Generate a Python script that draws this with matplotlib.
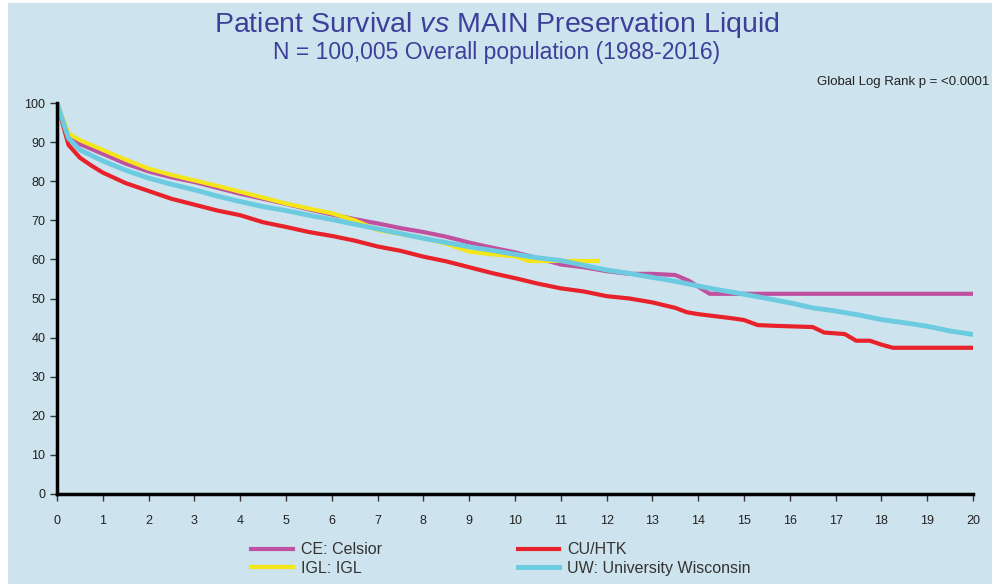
import matplotlib
matplotlib.use('Agg')
import matplotlib.pyplot as plt
from matplotlib.patches import Rectangle

plt.rcParams['font.family'] = ['Liberation Sans', 'DejaVu Sans']
plt.rcParams['mathtext.fontset'] = 'custom'
plt.rcParams['mathtext.it'] = 'Liberation Sans:italic'
plt.rcParams['mathtext.rm'] = 'Liberation Sans'

# survival curves (years, % surviving)
ce_t = [0, 0.25, 0.5, 1, 1.5, 2, 2.5, 3, 3.5, 4, 4.5, 5, 5.5, 6, 6.5, 7, 7.5,
        8, 8.5, 9, 9.5, 10, 10.5, 11, 11.5, 12, 12.5, 13, 13.5, 13.8, 14.25, 20]
ce_s = [100, 91.4, 89.5, 87, 84.5, 82.5, 81, 79.8, 78.3, 76.8, 75.5, 74.2, 72.8,
        71.5, 70.3, 69.2, 68, 67, 65.8, 64.3, 63, 61.8, 60.3, 58.7, 58, 57,
        56.3, 56.3, 56, 54.5, 51.2, 51.2]

igl_t = [0, 0.25, 0.5, 1, 1.5, 2, 2.5, 3, 3.5, 4, 4.5, 5, 5.5, 6, 6.5, 7, 7.5,
         8, 8.5, 9, 9.5, 10, 10.3, 11, 11.8]
igl_s = [100, 92.2, 90.5, 88, 85.5, 83.2, 81.6, 80.2, 78.8, 77.3, 75.8, 74.3,
         73, 71.8, 70, 67.5, 66.5, 65.5, 64, 62, 61.3, 60.8, 59.6, 59.6, 59.6]

htk_t = [0, 0.25, 0.5, 0.75, 1, 1.5, 2, 2.5, 3, 3.5, 4, 4.5, 5, 5.5, 6, 6.5, 7,
         7.5, 8, 8.5, 9, 9.5, 10, 10.5, 11, 11.5, 12, 12.5, 13, 13.5, 13.75, 14,
         14.7, 15, 15.3, 15.7, 16.5, 16.75, 17.2, 17.45, 17.75, 18, 18.25, 20]
htk_s = [100, 89.3, 86, 84, 82.2, 79.5, 77.5, 75.5, 74, 72.5, 71.3, 69.5, 68.3,
         67, 66, 64.8, 63.3, 62.2, 60.7, 59.5, 58, 56.5, 55.2, 53.8, 52.6, 51.8,
         50.6, 50, 49, 47.6, 46.5, 46, 45, 44.5, 43.2, 43, 42.7, 41.3, 40.9,
         39.2, 39.2, 38.2, 37.4, 37.4]

uw_t = [0, 0.25, 0.5, 1, 1.5, 2, 2.5, 3, 3.5, 4, 4.5, 5, 5.5, 6, 6.5, 7, 7.5, 8,
        8.5, 9, 9.5, 10, 10.5, 11, 11.5, 12, 12.5, 13, 13.5, 14, 14.5, 15, 15.5,
        16, 16.5, 17, 17.5, 18, 18.5, 19, 19.5, 20]
uw_s = [100, 91, 88, 85.2, 82.8, 80.8, 79.2, 77.8, 76.2, 74.8, 73.5, 72.5, 71.3,
        70.2, 69, 67.8, 66.6, 65.4, 64.3, 63.2, 62.3, 61.3, 60.4, 59.7, 58.5,
        57.3, 56.4, 55.4, 54.4, 53.2, 52.1, 51.1, 50.0, 48.9, 47.6, 46.8, 45.8,
        44.6, 43.8, 42.9, 41.7, 40.8]

bg = '#cde3ed'
fig = plt.figure(figsize=(9.94, 5.84), dpi=100, facecolor='white')
fig.patches.append(Rectangle((8 / 994, 0), 984 / 994, 1 - 3 / 584,
                             transform=fig.transFigure, facecolor=bg,
                             edgecolor='none', zorder=-1))

ax = fig.add_axes([57 / 994, 1 - 494 / 584, 916 / 994, 391 / 584])
ax.set_facecolor(bg)

ax.plot(ce_t, ce_s, color='#c050a0', lw=3.0, label='CE: Celsior')
ax.plot(igl_t, igl_s, color='#f5e61a', lw=3.0, label='IGL: IGL')
ax.plot(htk_t, htk_s, color='#e8222a', lw=3.0, label='CU/HTK')
ax.plot(uw_t, uw_s, color='#6ccbe0', lw=3.5, label='UW: University Wisconsin')

ax.set_xlim(0, 20)
ax.set_ylim(0, 100)
ax.set_xticks(range(0, 21))
ax.set_yticks(range(0, 101, 10))
for s in ['top', 'right']:
    ax.spines[s].set_visible(False)
for s in ['left', 'bottom']:
    ax.spines[s].set_linewidth(2.5)
    ax.spines[s].set_color('black')
ax.tick_params(axis='both', length=5, width=1, color='#333333',
               labelsize=9, labelcolor='#222222')
ax.tick_params(axis='x', pad=10)

handles, labels = ax.get_legend_handles_labels()
leg = fig.legend(handles, labels, ncol=2, loc='upper left',
                 bbox_to_anchor=(237 / 994, 1 - 528 / 584), frameon=False,
                 fontsize=11.5, handlelength=2.6, handletextpad=0.5,
                 columnspacing=8.5, labelspacing=0.2)
for t in leg.get_texts():
    t.set_color('#333333')

fig.text(0.5, 1 - 25 / 584, r'Patient Survival $\it{vs}$ MAIN Preservation Liquid',
         ha='center', va='center', fontsize=20.5, color='#3b409a')
fig.text(0.5, 1 - 53 / 584, 'N = 100,005 Overall population (1988-2016)',
         ha='center', va='center', fontsize=16.5, color='#3b409a')
fig.text(989 / 994, 1 - 82 / 584, 'Global Log Rank p = <0.0001',
         ha='right', va='center', fontsize=9.5, color='#222222')

fig.savefig('out.png', dpi=100, facecolor=fig.get_facecolor())
